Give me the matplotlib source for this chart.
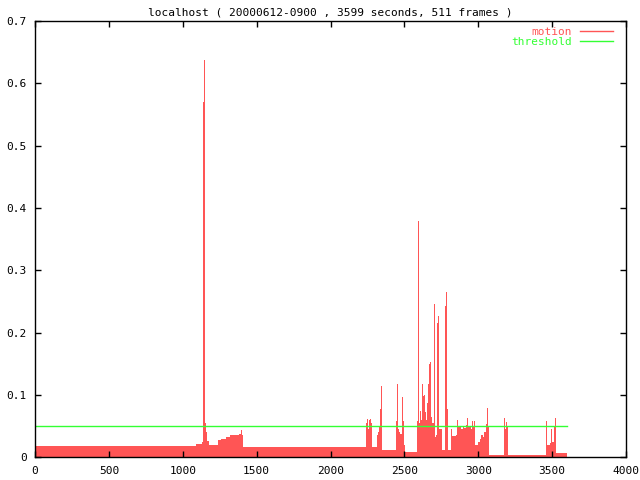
import matplotlib
matplotlib.use("Agg")
import matplotlib.pyplot as plt
from matplotlib.lines import Line2D

# motion level per frame segment (segment start time in seconds, value)
seg_start = [0, 1092, 1130, 1137, 1144, 1151, 1158, 1165, 1180, 1239, 1260, 1290,
             1320, 1350, 1380, 1395, 1402, 1408,
             2241, 2248, 2255, 2262, 2269, 2276, 2282,
             2315, 2322, 2329, 2336, 2342, 2349,
             2444, 2451, 2458, 2465, 2472, 2479, 2486, 2493, 2500, 2507,
             2583, 2590, 2597, 2604, 2611, 2618, 2625, 2632, 2639, 2646, 2653, 2660,
             2667, 2674, 2681, 2688, 2698, 2705, 2712, 2718, 2725, 2732, 2745, 2755,
             2772, 2779, 2786, 2793,
             2815, 2822, 2835, 2850, 2858, 2865, 2880, 2895, 2905, 2915, 2922, 2929,
             2940, 2950, 2958, 2966, 2973, 2980, 2990, 3000, 3010, 3020, 3030, 3040,
             3050, 3057, 3064, 3074,
             3171, 3178, 3185, 3192, 3198,
             3457, 3464, 3475, 3485, 3492, 3500, 3510, 3517, 3524, 3529, 3599]
motion = [0.018, 0.021, 0.024, 0.570, 0.637, 0.055, 0.040, 0.026, 0.020, 0.027, 0.029, 0.032,
          0.035, 0.036, 0.038, 0.044, 0.036, 0.016,
          0.055, 0.061, 0.045, 0.060, 0.062, 0.055, 0.016,
          0.035, 0.040, 0.050, 0.077, 0.115, 0.012,
          0.058, 0.118, 0.045, 0.040, 0.038, 0.037, 0.096, 0.058, 0.020, 0.0085,
          0.058, 0.379, 0.055, 0.074, 0.060, 0.118, 0.098, 0.100, 0.072, 0.060, 0.087, 0.117,
          0.149, 0.153, 0.065, 0.055, 0.246, 0.032, 0.035, 0.215, 0.226, 0.045, 0.045, 0.012,
          0.243, 0.266, 0.077, 0.012,
          0.045, 0.034, 0.034, 0.036, 0.060, 0.048, 0.046, 0.048, 0.047, 0.052, 0.063, 0.048,
          0.050, 0.046, 0.058, 0.050, 0.058, 0.019, 0.020, 0.025, 0.030, 0.035, 0.032, 0.040,
          0.053, 0.079, 0.050, 0.004,
          0.063, 0.045, 0.056, 0.050, 0.004,
          0.059, 0.020, 0.020, 0.023, 0.045, 0.025, 0.050, 0.063, 0.040, 0.007, 0.007]

threshold = 0.05
duration = 3599

x_ticks = [0, 500, 1000, 1500, 2000, 2500, 3000, 3500, 4000]
y_ticks = [0, 0.1, 0.2, 0.3, 0.4, 0.5, 0.6, 0.7]
y_labels = ["0", "0.1", "0.2", "0.3", "0.4", "0.5", "0.6", "0.7"]

red = "#ff5555"
green = "#33ff33"

plt.rcParams["font.family"] = "DejaVu Sans Mono"
plt.rcParams["font.size"] = 8

fig = plt.figure(figsize=(6.4, 4.8), dpi=100)
ax = fig.add_axes([35 / 640, 1 - 457.3 / 480, 591 / 640, 436.3 / 480])

ax.fill_between(seg_start, motion, step="post", color=red, linewidth=0)
ax.plot([0, duration], [threshold, threshold], color=green, linewidth=1)

ax.set_xlim(0, 4000)
ax.set_ylim(0, 0.7)
ax.set_xticks(x_ticks)
ax.set_yticks(y_ticks)
ax.set_yticklabels(y_labels)
ax.tick_params(direction="in", length=4, width=1, top=True, right=True, pad=6)
for s in ax.spines.values():
    s.set_linewidth(1)

ax.set_title("localhost ( 20000612-0900 , 3599 seconds, 511 frames )", fontsize=8, pad=4)

handles = [Line2D([], [], color=red, linewidth=1), Line2D([], [], color=green, linewidth=1)]
ax.legend(handles, ["motion", "threshold"], loc="upper right", bbox_to_anchor=(0.978, 0.987),
          frameon=False, markerfirst=False, labelcolor="linecolor", fontsize=8,
          handlelength=3.0, handletextpad=0.7, labelspacing=0.0, borderpad=0, borderaxespad=0)

fig.savefig("out.png", dpi=100)
